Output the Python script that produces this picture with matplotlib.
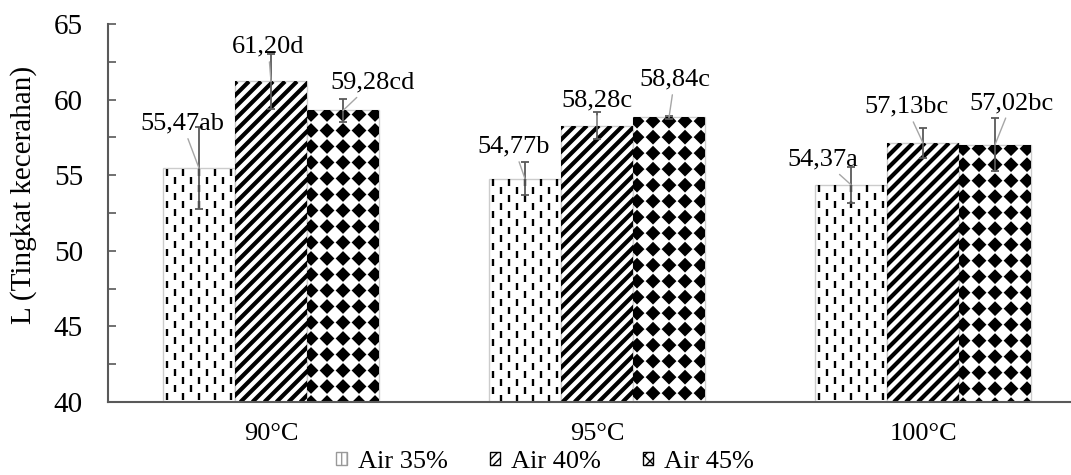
import numpy as np
import matplotlib.pyplot as plt
from matplotlib.collections import LineCollection, PolyCollection
from matplotlib.patches import Patch
from matplotlib.transforms import IdentityTransform, Bbox, TransformedBbox

# data
categories = ['90°C', '95°C', '100°C']
series = ['Air 35%', 'Air 40%', 'Air 45%']
air35 = [55.47, 54.77, 54.37]
air40 = [61.20, 58.28, 57.13]
air45 = [59.28, 58.84, 57.02]
err35 = [2.70, 1.10, 1.20]
err40 = [1.80, 0.90, 1.00]
err45 = [0.75, 0.10, 1.75]
lab35 = ['55,47ab', '54,77b', '54,37a']
lab40 = ['61,20d', '58,28c', '57,13bc']
lab45 = ['59,28cd', '58,84c', '57,02bc']

# label offsets (points) from top of each bar
off35 = [(-12, 32), (-8, 23), (-20, 18)]
off40 = [(-2, 25), (0, 18), (-12, 26)]
off45 = [(21, 20), (4, 27), (12, 30)]

plt.rcParams['font.family'] = ['Liberation Serif', 'DejaVu Serif']
FS = 19
GRAY = '#595959'

fig = plt.figure(figsize=(10.71, 4.75), dpi=100)
ax = fig.add_axes([108 / 1071, 73 / 475, 978 / 1071, 378 / 475])
ax.set_xlim(-0.5, 2.5)
ax.set_ylim(40, 65)

x = np.arange(len(categories))
w = 0.221

bars35 = ax.bar(x - w, air35, w, color='white', edgecolor='#cccccc', lw=1, zorder=2)
bars40 = ax.bar(x, air40, w, color='white', edgecolor='#cccccc', lw=1, zorder=2)
bars45 = ax.bar(x + w, air45, w, color='white', edgecolor='#cccccc', lw=1, zorder=2)


def visible_box(bar):
    bottom = max(bar.get_y(), ax.get_ylim()[0])
    return Bbox([[bar.get_x(), bottom], [bar.get_x() + bar.get_width(), bar.get_y() + bar.get_height()]])


def pix_box(bar):
    (x0, y0), (x1, y1) = ax.transData.transform(visible_box(bar).get_points())
    return x0, y0, x1, y1


def finish(coll, bar):
    ax.add_collection(coll)
    coll.set_clip_path(None)
    coll.set_clip_box(TransformedBbox(visible_box(bar), ax.transData))


def dashes(bar):
    x0, y0, x1, y1 = pix_box(bar)
    segs = []
    for i, cx in enumerate(np.arange(x0 + 4, x1, 8)):
        shift = 8 if i % 2 else 0
        for cy in np.arange(y1 - 4 - shift, y0 - 16, -16):
            segs.append([(cx, cy - 3.5), (cx, cy + 3.5)])
    finish(LineCollection(segs, colors='black', linewidths=1.7,
                          transform=IdentityTransform(), zorder=2.5), bar)


def stripes(bar):
    x0, y0, x1, y1 = pix_box(bar)
    h = y1 - y0
    segs = [[(sx - h, y0), (sx, y1)] for sx in np.arange(x0 + 2, x1 + h, 12)]
    finish(LineCollection(segs, colors='black', linewidths=3.0,
                          transform=IdentityTransform(), zorder=2.5), bar)


def diamonds(bar):
    x0, y0, x1, y1 = pix_box(bar)
    r = 7.4
    polys = []
    for cx in np.arange(x0 + 4, x1 + 8, 16):
        for cy in np.arange(y1 - 4, y0 - 8, -16):
            polys.append([(cx - r, cy), (cx, cy + r), (cx + r, cy), (cx, cy - r)])
    finish(PolyCollection(polys, facecolors='black', edgecolors='none',
                          transform=IdentityTransform(), zorder=2.5), bar)


for b in bars35:
    dashes(b)
for b in bars40:
    stripes(b)
for b in bars45:
    diamonds(b)

# error bars
for xs, vals, errs in [(x - w, air35, err35), (x, air40, err40), (x + w, air45, err45)]:
    ax.errorbar(xs, vals, yerr=errs, fmt='none', ecolor=GRAY, elinewidth=1.3,
                capsize=3, capthick=1.3, zorder=3)

# value labels with leader lines
for xs, vals, labs, offs in [(x - w, air35, lab35, off35), (x, air40, lab40, off40),
                             (x + w, air45, lab45, off45)]:
    for xi, v, t, o in zip(xs, vals, labs, offs):
        ax.annotate(t, xy=(xi, v), xytext=o, textcoords='offset points',
                    ha='center', va='center', fontsize=FS, zorder=4,
                    arrowprops=dict(arrowstyle='-', color='#a6a6a6', lw=1, shrinkA=1, shrinkB=0))

# axes styling
for s in ['top', 'right']:
    ax.spines[s].set_visible(False)
for s in ['left', 'bottom']:
    ax.spines[s].set_color(GRAY)
    ax.spines[s].set_linewidth(1.5)

ax.set_yticks(np.arange(40, 66, 5))
ax.set_yticks(np.arange(40, 66, 2.5), minor=True)
ax.tick_params(axis='y', which='both', direction='in', length=6, width=1.2, color=GRAY,
               labelsize=21, pad=18)
ax.set_xticks(x)
ax.set_xticklabels(categories)
ax.tick_params(axis='x', length=0, labelsize=FS, pad=15)
ax.set_ylabel('L (Tingkat kecerahan)', fontsize=21)
ax.yaxis.set_label_coords(-71 / 978, 0.548)

handles = [Patch(facecolor='white', edgecolor='#999999', hatch='|||'),
           Patch(facecolor='white', edgecolor='black', hatch='////'),
           Patch(facecolor='white', edgecolor='black', hatch='xxx')]
fig.legend(handles, series, loc='center', bbox_to_anchor=(0.509, 13 / 475), ncol=3,
           frameon=False, fontsize=FS, handlelength=0.4, handleheight=0.4,
           handletextpad=0.4, columnspacing=1.6)

plt.savefig('out.png', dpi=100)
